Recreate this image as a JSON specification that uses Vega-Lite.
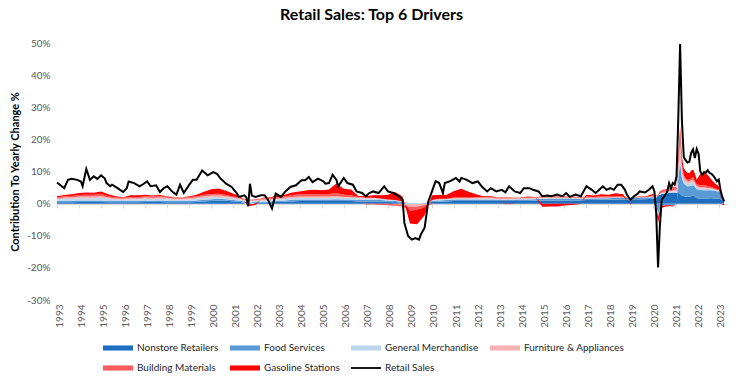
{
"$schema": "https://vega.github.io/schema/vega-lite/v6.json",
"autosize": {"type": "none"},
"padding": {"left": 57, "top": 43, "right": 17, "bottom": 83},
"width": 669,
"height": 257,
"background": "white",
"config": {"view": {"stroke": null}, "font": "Lato", "axis": {"labelOverlap": false}},
"title": {"text": "Retail Sales: Top 6 Drivers", "font": "Lato", "fontSize": 16, "fontWeight": "bold", "color": "black", "anchor": "middle", "frame": "group", "dx": -20, "offset": 15},
"datasets": {
"areas": [
{"d":"1993-01-01","s":"a","v":0.4},{"d":"1993-01-01","s":"b","v":0.4},{"d":"1993-01-01","s":"c","v":0.5},{"d":"1993-01-01","s":"d","v":0.3},{"d":"1993-01-01","s":"e","v":0.4},{"d":"1993-01-01","s":"f","v":0.3},
{"d":"1993-05-01","s":"a","v":0.4},{"d":"1993-05-01","s":"b","v":0.5},{"d":"1993-05-01","s":"c","v":0.6},{"d":"1993-05-01","s":"d","v":0.4},{"d":"1993-05-01","s":"e","v":0.4},{"d":"1993-05-01","s":"f","v":0.4},
{"d":"1993-09-01","s":"a","v":0.4},{"d":"1993-09-01","s":"b","v":0.5},{"d":"1993-09-01","s":"c","v":0.6},{"d":"1993-09-01","s":"d","v":0.4},{"d":"1993-09-01","s":"e","v":0.5},{"d":"1993-09-01","s":"f","v":0.5},
{"d":"1994-01-01","s":"a","v":0.5},{"d":"1994-01-01","s":"b","v":0.5},{"d":"1994-01-01","s":"c","v":0.7},{"d":"1994-01-01","s":"d","v":0.5},{"d":"1994-01-01","s":"e","v":0.5},{"d":"1994-01-01","s":"f","v":0.6},
{"d":"1994-05-01","s":"a","v":0.5},{"d":"1994-05-01","s":"b","v":0.5},{"d":"1994-05-01","s":"c","v":0.7},{"d":"1994-05-01","s":"d","v":0.5},{"d":"1994-05-01","s":"e","v":0.6},{"d":"1994-05-01","s":"f","v":0.7},
{"d":"1994-09-01","s":"a","v":0.5},{"d":"1994-09-01","s":"b","v":0.5},{"d":"1994-09-01","s":"c","v":0.7},{"d":"1994-09-01","s":"d","v":0.5},{"d":"1994-09-01","s":"e","v":0.6},{"d":"1994-09-01","s":"f","v":0.6},
{"d":"1995-01-01","s":"a","v":0.5},{"d":"1995-01-01","s":"b","v":0.5},{"d":"1995-01-01","s":"c","v":0.8},{"d":"1995-01-01","s":"d","v":0.6},{"d":"1995-01-01","s":"e","v":0.6},{"d":"1995-01-01","s":"f","v":0.8},
{"d":"1995-05-01","s":"a","v":0.4},{"d":"1995-05-01","s":"b","v":0.5},{"d":"1995-05-01","s":"c","v":0.6},{"d":"1995-05-01","s":"d","v":0.4},{"d":"1995-05-01","s":"e","v":0.4},{"d":"1995-05-01","s":"f","v":0.6},
{"d":"1995-09-01","s":"a","v":0.4},{"d":"1995-09-01","s":"b","v":0.4},{"d":"1995-09-01","s":"c","v":0.5},{"d":"1995-09-01","s":"d","v":0.3},{"d":"1995-09-01","s":"e","v":0.3},{"d":"1995-09-01","s":"f","v":0.4},
{"d":"1996-01-01","s":"a","v":0.4},{"d":"1996-01-01","s":"b","v":0.4},{"d":"1996-01-01","s":"c","v":0.4},{"d":"1996-01-01","s":"d","v":0.3},{"d":"1996-01-01","s":"e","v":0.3},{"d":"1996-01-01","s":"f","v":0.2},
{"d":"1996-05-01","s":"a","v":0.4},{"d":"1996-05-01","s":"b","v":0.5},{"d":"1996-05-01","s":"c","v":0.5},{"d":"1996-05-01","s":"d","v":0.3},{"d":"1996-05-01","s":"e","v":0.4},{"d":"1996-05-01","s":"f","v":0.5},
{"d":"1996-09-01","s":"a","v":0.4},{"d":"1996-09-01","s":"b","v":0.5},{"d":"1996-09-01","s":"c","v":0.5},{"d":"1996-09-01","s":"d","v":0.3},{"d":"1996-09-01","s":"e","v":0.4},{"d":"1996-09-01","s":"f","v":0.5},
{"d":"1997-01-01","s":"a","v":0.5},{"d":"1997-01-01","s":"b","v":0.5},{"d":"1997-01-01","s":"c","v":0.5},{"d":"1997-01-01","s":"d","v":0.4},{"d":"1997-01-01","s":"e","v":0.4},{"d":"1997-01-01","s":"f","v":0.5},
{"d":"1997-05-01","s":"a","v":0.5},{"d":"1997-05-01","s":"b","v":0.4},{"d":"1997-05-01","s":"c","v":0.5},{"d":"1997-05-01","s":"d","v":0.4},{"d":"1997-05-01","s":"e","v":0.4},{"d":"1997-05-01","s":"f","v":0.3},
{"d":"1997-09-01","s":"a","v":0.5},{"d":"1997-09-01","s":"b","v":0.5},{"d":"1997-09-01","s":"c","v":0.5},{"d":"1997-09-01","s":"d","v":0.4},{"d":"1997-09-01","s":"e","v":0.4},{"d":"1997-09-01","s":"f","v":0.4},
{"d":"1998-01-01","s":"a","v":0.4},{"d":"1998-01-01","s":"b","v":0.5},{"d":"1998-01-01","s":"c","v":0.5},{"d":"1998-01-01","s":"d","v":0.4},{"d":"1998-01-01","s":"e","v":0.4},{"d":"1998-01-01","s":"f","v":0.1},
{"d":"1998-05-01","s":"a","v":0.4},{"d":"1998-05-01","s":"b","v":0.4},{"d":"1998-05-01","s":"c","v":0.4},{"d":"1998-05-01","s":"d","v":0.3},{"d":"1998-05-01","s":"e","v":0.4},{"d":"1998-05-01","s":"f","v":0.1},
{"d":"1998-09-01","s":"a","v":0.4},{"d":"1998-09-01","s":"b","v":0.4},{"d":"1998-09-01","s":"c","v":0.4},{"d":"1998-09-01","s":"d","v":0.3},{"d":"1998-09-01","s":"e","v":0.4},{"d":"1998-09-01","s":"f","v":0.0},
{"d":"1999-01-01","s":"a","v":0.4},{"d":"1999-01-01","s":"b","v":0.5},{"d":"1999-01-01","s":"c","v":0.4},{"d":"1999-01-01","s":"d","v":0.4},{"d":"1999-01-01","s":"e","v":0.4},{"d":"1999-01-01","s":"f","v":0.2},
{"d":"1999-05-01","s":"a","v":0.5},{"d":"1999-05-01","s":"b","v":0.5},{"d":"1999-05-01","s":"c","v":0.5},{"d":"1999-05-01","s":"d","v":0.4},{"d":"1999-05-01","s":"e","v":0.4},{"d":"1999-05-01","s":"f","v":0.5},
{"d":"1999-09-01","s":"a","v":0.7},{"d":"1999-09-01","s":"b","v":0.5},{"d":"1999-09-01","s":"c","v":0.6},{"d":"1999-09-01","s":"d","v":0.5},{"d":"1999-09-01","s":"e","v":0.5},{"d":"1999-09-01","s":"f","v":0.9},
{"d":"2000-01-01","s":"a","v":0.8},{"d":"2000-01-01","s":"b","v":0.6},{"d":"2000-01-01","s":"c","v":0.6},{"d":"2000-01-01","s":"d","v":0.5},{"d":"2000-01-01","s":"e","v":0.5},{"d":"2000-01-01","s":"f","v":1.5},
{"d":"2000-05-01","s":"a","v":0.9},{"d":"2000-05-01","s":"b","v":0.6},{"d":"2000-05-01","s":"c","v":0.6},{"d":"2000-05-01","s":"d","v":0.5},{"d":"2000-05-01","s":"e","v":0.5},{"d":"2000-05-01","s":"f","v":1.6},
{"d":"2000-09-01","s":"a","v":0.9},{"d":"2000-09-01","s":"b","v":0.5},{"d":"2000-09-01","s":"c","v":0.5},{"d":"2000-09-01","s":"d","v":0.4},{"d":"2000-09-01","s":"e","v":0.4},{"d":"2000-09-01","s":"f","v":1.3},
{"d":"2001-01-01","s":"a","v":0.7},{"d":"2001-01-01","s":"b","v":0.4},{"d":"2001-01-01","s":"c","v":0.5},{"d":"2001-01-01","s":"d","v":0.3},{"d":"2001-01-01","s":"e","v":0.3},{"d":"2001-01-01","s":"f","v":0.9},
{"d":"2001-05-01","s":"a","v":0.5},{"d":"2001-05-01","s":"b","v":0.4},{"d":"2001-05-01","s":"c","v":0.4},{"d":"2001-05-01","s":"d","v":0.2},{"d":"2001-05-01","s":"e","v":0.3},{"d":"2001-05-01","s":"f","v":0.4},
{"d":"2001-09-01","s":"a","v":-0.3},{"d":"2001-09-01","s":"b","v":0.3},{"d":"2001-09-01","s":"c","v":0.4},{"d":"2001-09-01","s":"d","v":0.2},{"d":"2001-09-01","s":"e","v":0.3},{"d":"2001-09-01","s":"f","v":-0.5},
{"d":"2002-01-01","s":"a","v":0.2},{"d":"2002-01-01","s":"b","v":0.3},{"d":"2002-01-01","s":"c","v":0.4},{"d":"2002-01-01","s":"d","v":0.2},{"d":"2002-01-01","s":"e","v":0.3},{"d":"2002-01-01","s":"f","v":-0.4},
{"d":"2002-05-01","s":"a","v":0.3},{"d":"2002-05-01","s":"b","v":0.3},{"d":"2002-05-01","s":"c","v":0.4},{"d":"2002-05-01","s":"d","v":0.3},{"d":"2002-05-01","s":"e","v":0.4},{"d":"2002-05-01","s":"f","v":0.1},
{"d":"2002-09-01","s":"a","v":0.4},{"d":"2002-09-01","s":"b","v":0.3},{"d":"2002-09-01","s":"c","v":0.4},{"d":"2002-09-01","s":"d","v":0.3},{"d":"2002-09-01","s":"e","v":0.4},{"d":"2002-09-01","s":"f","v":0.2},
{"d":"2003-01-01","s":"a","v":0.5},{"d":"2003-01-01","s":"b","v":0.4},{"d":"2003-01-01","s":"c","v":0.4},{"d":"2003-01-01","s":"d","v":0.3},{"d":"2003-01-01","s":"e","v":0.4},{"d":"2003-01-01","s":"f","v":0.6},
{"d":"2003-05-01","s":"a","v":0.6},{"d":"2003-05-01","s":"b","v":0.4},{"d":"2003-05-01","s":"c","v":0.5},{"d":"2003-05-01","s":"d","v":0.3},{"d":"2003-05-01","s":"e","v":0.5},{"d":"2003-05-01","s":"f","v":0.5},
{"d":"2003-09-01","s":"a","v":0.7},{"d":"2003-09-01","s":"b","v":0.5},{"d":"2003-09-01","s":"c","v":0.5},{"d":"2003-09-01","s":"d","v":0.4},{"d":"2003-09-01","s":"e","v":0.6},{"d":"2003-09-01","s":"f","v":0.8},
{"d":"2004-01-01","s":"a","v":0.8},{"d":"2004-01-01","s":"b","v":0.5},{"d":"2004-01-01","s":"c","v":0.5},{"d":"2004-01-01","s":"d","v":0.4},{"d":"2004-01-01","s":"e","v":0.7},{"d":"2004-01-01","s":"f","v":0.9},
{"d":"2004-05-01","s":"a","v":0.8},{"d":"2004-05-01","s":"b","v":0.5},{"d":"2004-05-01","s":"c","v":0.5},{"d":"2004-05-01","s":"d","v":0.4},{"d":"2004-05-01","s":"e","v":0.8},{"d":"2004-05-01","s":"f","v":1.2},
{"d":"2004-09-01","s":"a","v":0.8},{"d":"2004-09-01","s":"b","v":0.5},{"d":"2004-09-01","s":"c","v":0.5},{"d":"2004-09-01","s":"d","v":0.4},{"d":"2004-09-01","s":"e","v":0.8},{"d":"2004-09-01","s":"f","v":1.3},
{"d":"2005-01-01","s":"a","v":0.8},{"d":"2005-01-01","s":"b","v":0.5},{"d":"2005-01-01","s":"c","v":0.5},{"d":"2005-01-01","s":"d","v":0.4},{"d":"2005-01-01","s":"e","v":0.8},{"d":"2005-01-01","s":"f","v":1.2},
{"d":"2005-05-01","s":"a","v":0.8},{"d":"2005-05-01","s":"b","v":0.5},{"d":"2005-05-01","s":"c","v":0.5},{"d":"2005-05-01","s":"d","v":0.4},{"d":"2005-05-01","s":"e","v":0.8},{"d":"2005-05-01","s":"f","v":1.4},
{"d":"2005-09-01","s":"a","v":0.8},{"d":"2005-09-01","s":"b","v":0.6},{"d":"2005-09-01","s":"c","v":0.6},{"d":"2005-09-01","s":"d","v":0.4},{"d":"2005-09-01","s":"e","v":0.9},{"d":"2005-09-01","s":"f","v":3.0},
{"d":"2006-01-01","s":"a","v":0.8},{"d":"2006-01-01","s":"b","v":0.5},{"d":"2006-01-01","s":"c","v":0.5},{"d":"2006-01-01","s":"d","v":0.3},{"d":"2006-01-01","s":"e","v":0.7},{"d":"2006-01-01","s":"f","v":1.8},
{"d":"2006-05-01","s":"a","v":0.8},{"d":"2006-05-01","s":"b","v":0.5},{"d":"2006-05-01","s":"c","v":0.5},{"d":"2006-05-01","s":"d","v":0.3},{"d":"2006-05-01","s":"e","v":0.5},{"d":"2006-05-01","s":"f","v":1.8},
{"d":"2006-09-01","s":"a","v":0.7},{"d":"2006-09-01","s":"b","v":0.5},{"d":"2006-09-01","s":"c","v":0.5},{"d":"2006-09-01","s":"d","v":0.2},{"d":"2006-09-01","s":"e","v":0.2},{"d":"2006-09-01","s":"f","v":0.3},
{"d":"2007-01-01","s":"a","v":0.7},{"d":"2007-01-01","s":"b","v":0.5},{"d":"2007-01-01","s":"c","v":0.4},{"d":"2007-01-01","s":"d","v":0.2},{"d":"2007-01-01","s":"e","v":-0.3},{"d":"2007-01-01","s":"f","v":0.5},
{"d":"2007-05-01","s":"a","v":0.7},{"d":"2007-05-01","s":"b","v":0.5},{"d":"2007-05-01","s":"c","v":0.4},{"d":"2007-05-01","s":"d","v":0.2},{"d":"2007-05-01","s":"e","v":-0.3},{"d":"2007-05-01","s":"f","v":0.8},
{"d":"2007-09-01","s":"a","v":0.7},{"d":"2007-09-01","s":"b","v":0.4},{"d":"2007-09-01","s":"c","v":0.4},{"d":"2007-09-01","s":"d","v":0.1},{"d":"2007-09-01","s":"e","v":-0.4},{"d":"2007-09-01","s":"f","v":1.0},
{"d":"2008-01-01","s":"a","v":0.6},{"d":"2008-01-01","s":"b","v":0.4},{"d":"2008-01-01","s":"c","v":0.3},{"d":"2008-01-01","s":"d","v":0.0},{"d":"2008-01-01","s":"e","v":-0.5},{"d":"2008-01-01","s":"f","v":1.5},
{"d":"2008-05-01","s":"a","v":0.5},{"d":"2008-05-01","s":"b","v":0.3},{"d":"2008-05-01","s":"c","v":0.3},{"d":"2008-05-01","s":"d","v":-0.2},{"d":"2008-05-01","s":"e","v":-0.5},{"d":"2008-05-01","s":"f","v":2.5},
{"d":"2008-09-01","s":"a","v":0.3},{"d":"2008-09-01","s":"b","v":0.2},{"d":"2008-09-01","s":"c","v":0.2},{"d":"2008-09-01","s":"d","v":-0.3},{"d":"2008-09-01","s":"e","v":-0.6},{"d":"2008-09-01","s":"f","v":1.5},
{"d":"2009-01-01","s":"a","v":-0.2},{"d":"2009-01-01","s":"b","v":0.0},{"d":"2009-01-01","s":"c","v":0.2},{"d":"2009-01-01","s":"d","v":-0.8},{"d":"2009-01-01","s":"e","v":-1.2},{"d":"2009-01-01","s":"f","v":-4.0},
{"d":"2009-05-01","s":"a","v":-0.1},{"d":"2009-05-01","s":"b","v":-0.1},{"d":"2009-05-01","s":"c","v":0.2},{"d":"2009-05-01","s":"d","v":-0.7},{"d":"2009-05-01","s":"e","v":-1.0},{"d":"2009-05-01","s":"f","v":-4.5},
{"d":"2009-09-01","s":"a","v":0.1},{"d":"2009-09-01","s":"b","v":0.0},{"d":"2009-09-01","s":"c","v":0.2},{"d":"2009-09-01","s":"d","v":-0.4},{"d":"2009-09-01","s":"e","v":-0.7},{"d":"2009-09-01","s":"f","v":-2.5},
{"d":"2010-01-01","s":"a","v":0.5},{"d":"2010-01-01","s":"b","v":0.3},{"d":"2010-01-01","s":"c","v":0.3},{"d":"2010-01-01","s":"d","v":0.0},{"d":"2010-01-01","s":"e","v":-0.2},{"d":"2010-01-01","s":"f","v":1.5},
{"d":"2010-05-01","s":"a","v":0.6},{"d":"2010-05-01","s":"b","v":0.4},{"d":"2010-05-01","s":"c","v":0.3},{"d":"2010-05-01","s":"d","v":0.1},{"d":"2010-05-01","s":"e","v":0.1},{"d":"2010-05-01","s":"f","v":1.2},
{"d":"2010-09-01","s":"a","v":0.7},{"d":"2010-09-01","s":"b","v":0.4},{"d":"2010-09-01","s":"c","v":0.3},{"d":"2010-09-01","s":"d","v":0.1},{"d":"2010-09-01","s":"e","v":0.0},{"d":"2010-09-01","s":"f","v":1.3},
{"d":"2011-01-01","s":"a","v":0.8},{"d":"2011-01-01","s":"b","v":0.5},{"d":"2011-01-01","s":"c","v":0.3},{"d":"2011-01-01","s":"d","v":0.1},{"d":"2011-01-01","s":"e","v":0.2},{"d":"2011-01-01","s":"f","v":2.0},
{"d":"2011-05-01","s":"a","v":0.8},{"d":"2011-05-01","s":"b","v":0.5},{"d":"2011-05-01","s":"c","v":0.3},{"d":"2011-05-01","s":"d","v":0.1},{"d":"2011-05-01","s":"e","v":0.3},{"d":"2011-05-01","s":"f","v":2.6},
{"d":"2011-09-01","s":"a","v":0.8},{"d":"2011-09-01","s":"b","v":0.5},{"d":"2011-09-01","s":"c","v":0.3},{"d":"2011-09-01","s":"d","v":0.1},{"d":"2011-09-01","s":"e","v":0.2},{"d":"2011-09-01","s":"f","v":1.8},
{"d":"2012-01-01","s":"a","v":0.8},{"d":"2012-01-01","s":"b","v":0.5},{"d":"2012-01-01","s":"c","v":0.3},{"d":"2012-01-01","s":"d","v":0.2},{"d":"2012-01-01","s":"e","v":0.3},{"d":"2012-01-01","s":"f","v":0.8},
{"d":"2012-05-01","s":"a","v":0.8},{"d":"2012-05-01","s":"b","v":0.5},{"d":"2012-05-01","s":"c","v":0.3},{"d":"2012-05-01","s":"d","v":0.2},{"d":"2012-05-01","s":"e","v":0.3},{"d":"2012-05-01","s":"f","v":0.2},
{"d":"2012-09-01","s":"a","v":0.8},{"d":"2012-09-01","s":"b","v":0.5},{"d":"2012-09-01","s":"c","v":0.3},{"d":"2012-09-01","s":"d","v":0.2},{"d":"2012-09-01","s":"e","v":0.3},{"d":"2012-09-01","s":"f","v":0.2},
{"d":"2013-01-01","s":"a","v":0.8},{"d":"2013-01-01","s":"b","v":0.4},{"d":"2013-01-01","s":"c","v":0.2},{"d":"2013-01-01","s":"d","v":0.2},{"d":"2013-01-01","s":"e","v":0.4},{"d":"2013-01-01","s":"f","v":0.0},
{"d":"2013-05-01","s":"a","v":0.8},{"d":"2013-05-01","s":"b","v":0.4},{"d":"2013-05-01","s":"c","v":0.2},{"d":"2013-05-01","s":"d","v":0.2},{"d":"2013-05-01","s":"e","v":0.4},{"d":"2013-05-01","s":"f","v":-0.2},
{"d":"2013-09-01","s":"a","v":0.8},{"d":"2013-09-01","s":"b","v":0.4},{"d":"2013-09-01","s":"c","v":0.2},{"d":"2013-09-01","s":"d","v":0.2},{"d":"2013-09-01","s":"e","v":0.3},{"d":"2013-09-01","s":"f","v":-0.1},
{"d":"2014-01-01","s":"a","v":0.8},{"d":"2014-01-01","s":"b","v":0.5},{"d":"2014-01-01","s":"c","v":0.2},{"d":"2014-01-01","s":"d","v":0.2},{"d":"2014-01-01","s":"e","v":0.2},{"d":"2014-01-01","s":"f","v":0.0},
{"d":"2014-05-01","s":"a","v":0.8},{"d":"2014-05-01","s":"b","v":0.5},{"d":"2014-05-01","s":"c","v":0.2},{"d":"2014-05-01","s":"d","v":0.2},{"d":"2014-05-01","s":"e","v":0.3},{"d":"2014-05-01","s":"f","v":0.2},
{"d":"2014-09-01","s":"a","v":0.9},{"d":"2014-09-01","s":"b","v":0.5},{"d":"2014-09-01","s":"c","v":0.2},{"d":"2014-09-01","s":"d","v":0.2},{"d":"2014-09-01","s":"e","v":0.3},{"d":"2014-09-01","s":"f","v":0.0},
{"d":"2015-01-01","s":"a","v":0.9},{"d":"2015-01-01","s":"b","v":0.6},{"d":"2015-01-01","s":"c","v":0.2},{"d":"2015-01-01","s":"d","v":0.2},{"d":"2015-01-01","s":"e","v":0.4},{"d":"2015-01-01","s":"f","v":-1.0},
{"d":"2015-05-01","s":"a","v":0.9},{"d":"2015-05-01","s":"b","v":0.6},{"d":"2015-05-01","s":"c","v":0.2},{"d":"2015-05-01","s":"d","v":0.2},{"d":"2015-05-01","s":"e","v":0.4},{"d":"2015-05-01","s":"f","v":-0.9},
{"d":"2015-09-01","s":"a","v":0.9},{"d":"2015-09-01","s":"b","v":0.6},{"d":"2015-09-01","s":"c","v":0.2},{"d":"2015-09-01","s":"d","v":0.2},{"d":"2015-09-01","s":"e","v":0.4},{"d":"2015-09-01","s":"f","v":-0.9},
{"d":"2016-01-01","s":"a","v":1.0},{"d":"2016-01-01","s":"b","v":0.6},{"d":"2016-01-01","s":"c","v":0.1},{"d":"2016-01-01","s":"d","v":0.2},{"d":"2016-01-01","s":"e","v":0.4},{"d":"2016-01-01","s":"f","v":-0.6},
{"d":"2016-05-01","s":"a","v":1.0},{"d":"2016-05-01","s":"b","v":0.6},{"d":"2016-05-01","s":"c","v":0.1},{"d":"2016-05-01","s":"d","v":0.2},{"d":"2016-05-01","s":"e","v":0.4},{"d":"2016-05-01","s":"f","v":-0.4},
{"d":"2016-09-01","s":"a","v":1.0},{"d":"2016-09-01","s":"b","v":0.5},{"d":"2016-09-01","s":"c","v":0.1},{"d":"2016-09-01","s":"d","v":0.2},{"d":"2016-09-01","s":"e","v":0.3},{"d":"2016-09-01","s":"f","v":-0.2},
{"d":"2017-01-01","s":"a","v":1.1},{"d":"2017-01-01","s":"b","v":0.5},{"d":"2017-01-01","s":"c","v":0.1},{"d":"2017-01-01","s":"d","v":0.2},{"d":"2017-01-01","s":"e","v":0.3},{"d":"2017-01-01","s":"f","v":0.6},
{"d":"2017-05-01","s":"a","v":1.1},{"d":"2017-05-01","s":"b","v":0.5},{"d":"2017-05-01","s":"c","v":0.1},{"d":"2017-05-01","s":"d","v":0.1},{"d":"2017-05-01","s":"e","v":0.3},{"d":"2017-05-01","s":"f","v":0.4},
{"d":"2017-09-01","s":"a","v":1.2},{"d":"2017-09-01","s":"b","v":0.5},{"d":"2017-09-01","s":"c","v":0.1},{"d":"2017-09-01","s":"d","v":0.1},{"d":"2017-09-01","s":"e","v":0.4},{"d":"2017-09-01","s":"f","v":0.6},
{"d":"2018-01-01","s":"a","v":1.2},{"d":"2018-01-01","s":"b","v":0.5},{"d":"2018-01-01","s":"c","v":0.1},{"d":"2018-01-01","s":"d","v":0.1},{"d":"2018-01-01","s":"e","v":0.3},{"d":"2018-01-01","s":"f","v":0.6},
{"d":"2018-05-01","s":"a","v":1.3},{"d":"2018-05-01","s":"b","v":0.5},{"d":"2018-05-01","s":"c","v":0.1},{"d":"2018-05-01","s":"d","v":0.1},{"d":"2018-05-01","s":"e","v":0.3},{"d":"2018-05-01","s":"f","v":0.9},
{"d":"2018-09-01","s":"a","v":1.3},{"d":"2018-09-01","s":"b","v":0.5},{"d":"2018-09-01","s":"c","v":0.1},{"d":"2018-09-01","s":"d","v":0.1},{"d":"2018-09-01","s":"e","v":0.2},{"d":"2018-09-01","s":"f","v":0.7},
{"d":"2019-01-01","s":"a","v":1.3},{"d":"2019-01-01","s":"b","v":0.5},{"d":"2019-01-01","s":"c","v":0.1},{"d":"2019-01-01","s":"d","v":0.0},{"d":"2019-01-01","s":"e","v":0.1},{"d":"2019-01-01","s":"f","v":-0.3},
{"d":"2019-05-01","s":"a","v":1.4},{"d":"2019-05-01","s":"b","v":0.5},{"d":"2019-05-01","s":"c","v":0.1},{"d":"2019-05-01","s":"d","v":0.0},{"d":"2019-05-01","s":"e","v":0.1},{"d":"2019-05-01","s":"f","v":0.1},
{"d":"2019-09-01","s":"a","v":1.4},{"d":"2019-09-01","s":"b","v":0.5},{"d":"2019-09-01","s":"c","v":0.1},{"d":"2019-09-01","s":"d","v":0.0},{"d":"2019-09-01","s":"e","v":0.1},{"d":"2019-09-01","s":"f","v":0.1},
{"d":"2020-01-01","s":"a","v":1.5},{"d":"2020-01-01","s":"b","v":0.5},{"d":"2020-01-01","s":"c","v":0.2},{"d":"2020-01-01","s":"d","v":0.0},{"d":"2020-01-01","s":"e","v":0.3},{"d":"2020-01-01","s":"f","v":0.5},
{"d":"2020-02-01","s":"a","v":1.5},{"d":"2020-02-01","s":"b","v":0.5},{"d":"2020-02-01","s":"c","v":0.2},{"d":"2020-02-01","s":"d","v":0.0},{"d":"2020-02-01","s":"e","v":0.3},{"d":"2020-02-01","s":"f","v":0.3},
{"d":"2020-03-01","s":"a","v":1.8},{"d":"2020-03-01","s":"b","v":-1.0},{"d":"2020-03-01","s":"c","v":0.4},{"d":"2020-03-01","s":"d","v":-0.4},{"d":"2020-03-01","s":"e","v":0.3},{"d":"2020-03-01","s":"f","v":-0.6},
{"d":"2020-04-01","s":"a","v":2.5},{"d":"2020-04-01","s":"b","v":-3.0},{"d":"2020-04-01","s":"c","v":-0.3},{"d":"2020-04-01","s":"d","v":-0.8},{"d":"2020-04-01","s":"e","v":0.3},{"d":"2020-04-01","s":"f","v":-2.0},
{"d":"2020-05-01","s":"a","v":2.8},{"d":"2020-05-01","s":"b","v":-2.0},{"d":"2020-05-01","s":"c","v":0.3},{"d":"2020-05-01","s":"d","v":-0.2},{"d":"2020-05-01","s":"e","v":0.8},{"d":"2020-05-01","s":"f","v":-1.3},
{"d":"2020-06-01","s":"a","v":3.0},{"d":"2020-06-01","s":"b","v":-0.8},{"d":"2020-06-01","s":"c","v":0.3},{"d":"2020-06-01","s":"d","v":0.1},{"d":"2020-06-01","s":"e","v":0.8},{"d":"2020-06-01","s":"f","v":-0.6},
{"d":"2020-07-01","s":"a","v":3.1},{"d":"2020-07-01","s":"b","v":-0.6},{"d":"2020-07-01","s":"c","v":0.3},{"d":"2020-07-01","s":"d","v":0.2},{"d":"2020-07-01","s":"e","v":0.8},{"d":"2020-07-01","s":"f","v":-0.5},
{"d":"2020-08-01","s":"a","v":3.2},{"d":"2020-08-01","s":"b","v":-0.5},{"d":"2020-08-01","s":"c","v":0.3},{"d":"2020-08-01","s":"d","v":0.2},{"d":"2020-08-01","s":"e","v":0.8},{"d":"2020-08-01","s":"f","v":-0.4},
{"d":"2020-09-01","s":"a","v":3.2},{"d":"2020-09-01","s":"b","v":-0.5},{"d":"2020-09-01","s":"c","v":0.3},{"d":"2020-09-01","s":"d","v":0.2},{"d":"2020-09-01","s":"e","v":0.9},{"d":"2020-09-01","s":"f","v":-0.4},
{"d":"2020-10-01","s":"a","v":3.3},{"d":"2020-10-01","s":"b","v":-0.5},{"d":"2020-10-01","s":"c","v":0.4},{"d":"2020-10-01","s":"d","v":0.3},{"d":"2020-10-01","s":"e","v":0.9},{"d":"2020-10-01","s":"f","v":-0.3},
{"d":"2020-11-01","s":"a","v":3.4},{"d":"2020-11-01","s":"b","v":-0.5},{"d":"2020-11-01","s":"c","v":0.4},{"d":"2020-11-01","s":"d","v":0.3},{"d":"2020-11-01","s":"e","v":1.0},{"d":"2020-11-01","s":"f","v":-0.3},
{"d":"2020-12-01","s":"a","v":3.4},{"d":"2020-12-01","s":"b","v":-0.6},{"d":"2020-12-01","s":"c","v":0.4},{"d":"2020-12-01","s":"d","v":0.3},{"d":"2020-12-01","s":"e","v":1.0},{"d":"2020-12-01","s":"f","v":-0.3},
{"d":"2021-01-01","s":"a","v":3.5},{"d":"2021-01-01","s":"b","v":-0.4},{"d":"2021-01-01","s":"c","v":0.5},{"d":"2021-01-01","s":"d","v":0.4},{"d":"2021-01-01","s":"e","v":1.0},{"d":"2021-01-01","s":"f","v":-0.1},
{"d":"2021-02-01","s":"a","v":3.3},{"d":"2021-02-01","s":"b","v":-0.2},{"d":"2021-02-01","s":"c","v":0.4},{"d":"2021-02-01","s":"d","v":0.2},{"d":"2021-02-01","s":"e","v":1.0},{"d":"2021-02-01","s":"f","v":0.1},
{"d":"2021-03-01","s":"a","v":3.5},{"d":"2021-03-01","s":"b","v":4.0},{"d":"2021-03-01","s":"c","v":1.5},{"d":"2021-03-01","s":"d","v":2.0},{"d":"2021-03-01","s":"e","v":2.0},{"d":"2021-03-01","s":"f","v":2.0},
{"d":"2021-04-01","s":"a","v":3.0},{"d":"2021-04-01","s":"b","v":10.0},{"d":"2021-04-01","s":"c","v":2.0},{"d":"2021-04-01","s":"d","v":3.5},{"d":"2021-04-01","s":"e","v":3.0},{"d":"2021-04-01","s":"f","v":2.5},
{"d":"2021-05-01","s":"a","v":2.5},{"d":"2021-05-01","s":"b","v":5.5},{"d":"2021-05-01","s":"c","v":1.2},{"d":"2021-05-01","s":"d","v":1.8},{"d":"2021-05-01","s":"e","v":1.3},{"d":"2021-05-01","s":"f","v":2.3},
{"d":"2021-06-01","s":"a","v":2.3},{"d":"2021-06-01","s":"b","v":4.0},{"d":"2021-06-01","s":"c","v":1.0},{"d":"2021-06-01","s":"d","v":0.8},{"d":"2021-06-01","s":"e","v":0.7},{"d":"2021-06-01","s":"f","v":2.2},
{"d":"2021-07-01","s":"a","v":2.2},{"d":"2021-07-01","s":"b","v":3.6},{"d":"2021-07-01","s":"c","v":0.9},{"d":"2021-07-01","s":"d","v":0.7},{"d":"2021-07-01","s":"e","v":0.6},{"d":"2021-07-01","s":"f","v":2.2},
{"d":"2021-08-01","s":"a","v":2.1},{"d":"2021-08-01","s":"b","v":3.3},{"d":"2021-08-01","s":"c","v":0.9},{"d":"2021-08-01","s":"d","v":0.6},{"d":"2021-08-01","s":"e","v":0.5},{"d":"2021-08-01","s":"f","v":2.1},
{"d":"2021-09-01","s":"a","v":2.2},{"d":"2021-09-01","s":"b","v":3.2},{"d":"2021-09-01","s":"c","v":0.9},{"d":"2021-09-01","s":"d","v":0.6},{"d":"2021-09-01","s":"e","v":0.5},{"d":"2021-09-01","s":"f","v":2.1},
{"d":"2021-10-01","s":"a","v":2.3},{"d":"2021-10-01","s":"b","v":3.3},{"d":"2021-10-01","s":"c","v":1.0},{"d":"2021-10-01","s":"d","v":0.7},{"d":"2021-10-01","s":"e","v":0.6},{"d":"2021-10-01","s":"f","v":2.3},
{"d":"2021-11-01","s":"a","v":2.5},{"d":"2021-11-01","s":"b","v":3.3},{"d":"2021-11-01","s":"c","v":1.0},{"d":"2021-11-01","s":"d","v":0.7},{"d":"2021-11-01","s":"e","v":0.7},{"d":"2021-11-01","s":"f","v":2.5},
{"d":"2021-12-01","s":"a","v":2.2},{"d":"2021-12-01","s":"b","v":3.0},{"d":"2021-12-01","s":"c","v":0.8},{"d":"2021-12-01","s":"d","v":0.5},{"d":"2021-12-01","s":"e","v":0.6},{"d":"2021-12-01","s":"f","v":2.3},
{"d":"2022-01-01","s":"a","v":1.7},{"d":"2022-01-01","s":"b","v":2.8},{"d":"2022-01-01","s":"c","v":0.6},{"d":"2022-01-01","s":"d","v":0.3},{"d":"2022-01-01","s":"e","v":0.6},{"d":"2022-01-01","s":"f","v":1.5},
{"d":"2022-03-01","s":"a","v":1.6},{"d":"2022-03-01","s":"b","v":2.7},{"d":"2022-03-01","s":"c","v":0.5},{"d":"2022-03-01","s":"d","v":0.3},{"d":"2022-03-01","s":"e","v":0.6},{"d":"2022-03-01","s":"f","v":3.5},
{"d":"2022-05-01","s":"a","v":1.6},{"d":"2022-05-01","s":"b","v":2.6},{"d":"2022-05-01","s":"c","v":0.5},{"d":"2022-05-01","s":"d","v":0.3},{"d":"2022-05-01","s":"e","v":0.7},{"d":"2022-05-01","s":"f","v":3.8},
{"d":"2022-07-01","s":"a","v":1.6},{"d":"2022-07-01","s":"b","v":2.6},{"d":"2022-07-01","s":"c","v":0.4},{"d":"2022-07-01","s":"d","v":0.3},{"d":"2022-07-01","s":"e","v":0.6},{"d":"2022-07-01","s":"f","v":3.5},
{"d":"2022-09-01","s":"a","v":1.7},{"d":"2022-09-01","s":"b","v":2.5},{"d":"2022-09-01","s":"c","v":0.4},{"d":"2022-09-01","s":"d","v":0.2},{"d":"2022-09-01","s":"e","v":0.4},{"d":"2022-09-01","s":"f","v":2.3},
{"d":"2022-11-01","s":"a","v":1.6},{"d":"2022-11-01","s":"b","v":2.4},{"d":"2022-11-01","s":"c","v":0.3},{"d":"2022-11-01","s":"d","v":0.1},{"d":"2022-11-01","s":"e","v":0.3},{"d":"2022-11-01","s":"f","v":1.6},
{"d":"2023-01-01","s":"a","v":1.5},{"d":"2023-01-01","s":"b","v":2.2},{"d":"2023-01-01","s":"c","v":0.3},{"d":"2023-01-01","s":"d","v":0.1},{"d":"2023-01-01","s":"e","v":0.3},{"d":"2023-01-01","s":"f","v":1.0},
{"d":"2023-03-01","s":"a","v":1.2},{"d":"2023-03-01","s":"b","v":1.8},{"d":"2023-03-01","s":"c","v":0.2},{"d":"2023-03-01","s":"d","v":-0.1},{"d":"2023-03-01","s":"e","v":0.0},{"d":"2023-03-01","s":"f","v":-0.3},
{"d":"2023-04-01","s":"a","v":0.5},{"d":"2023-04-01","s":"b","v":0.6},{"d":"2023-04-01","s":"c","v":0.1},{"d":"2023-04-01","s":"d","v":-0.1},{"d":"2023-04-01","s":"e","v":-0.1},{"d":"2023-04-01","s":"f","v":-0.3}
],
"sales": [
{"d":"1993-01-01","v":6.6},{"d":"1993-05-01","v":4.8},{"d":"1993-07-01","v":7.4},{"d":"1993-09-01","v":7.7},{"d":"1993-12-01","v":7.4},
{"d":"1994-02-01","v":6.9},{"d":"1994-03-01","v":5.4},{"d":"1994-05-01","v":10.8},{"d":"1994-07-01","v":7.4},{"d":"1994-09-01","v":8.5},{"d":"1994-11-01","v":7.7},
{"d":"1995-01-01","v":8.8},{"d":"1995-03-01","v":7.9},{"d":"1995-04-01","v":6.4},{"d":"1995-06-01","v":5.4},{"d":"1995-07-01","v":5.9},{"d":"1995-10-01","v":4.8},
{"d":"1996-01-01","v":3.6},{"d":"1996-03-01","v":4.8},{"d":"1996-04-01","v":6.9},{"d":"1996-07-01","v":6.4},{"d":"1996-10-01","v":5.4},{"d":"1996-12-01","v":6.1},
{"d":"1997-02-01","v":6.9},{"d":"1997-04-01","v":5.4},{"d":"1997-07-01","v":5.7},{"d":"1997-09-01","v":3.6},{"d":"1997-11-01","v":4.8},
{"d":"1998-01-01","v":5.4},{"d":"1998-04-01","v":3.6},{"d":"1998-06-01","v":2.8},{"d":"1998-08-01","v":5.9},{"d":"1998-10-01","v":3.3},
{"d":"1999-01-01","v":5.9},{"d":"1999-03-01","v":7.4},{"d":"1999-05-01","v":7.4},{"d":"1999-08-01","v":10.3},{"d":"1999-11-01","v":8.8},
{"d":"2000-02-01","v":9.8},{"d":"2000-04-01","v":9.3},{"d":"2000-06-01","v":7.8},{"d":"2000-09-01","v":6.2},{"d":"2000-12-01","v":5.2},
{"d":"2001-03-01","v":3.1},{"d":"2001-04-01","v":2.1},{"d":"2001-07-01","v":2.6},{"d":"2001-08-01","v":2.0},{"d":"2001-09-01","v":-0.8},{"d":"2001-10-01","v":6.2},{"d":"2001-11-01","v":2.5},
{"d":"2002-01-01","v":2.1},{"d":"2002-04-01","v":2.6},{"d":"2002-06-01","v":2.6},{"d":"2002-08-01","v":1.0},{"d":"2002-10-01","v":-1.5},{"d":"2002-12-01","v":3.1},
{"d":"2003-03-01","v":2.1},{"d":"2003-05-01","v":3.6},{"d":"2003-08-01","v":5.2},{"d":"2003-11-01","v":5.7},
{"d":"2004-02-01","v":7.3},{"d":"2004-04-01","v":7.3},{"d":"2004-06-01","v":8.3},{"d":"2004-08-01","v":6.7},{"d":"2004-11-01","v":7.8},
{"d":"2005-02-01","v":6.9},{"d":"2005-03-01","v":6.2},{"d":"2005-05-01","v":6.4},{"d":"2005-07-01","v":9.0},{"d":"2005-09-01","v":7.4},{"d":"2005-10-01","v":5.4},
{"d":"2006-01-01","v":8.0},{"d":"2006-03-01","v":6.4},{"d":"2006-06-01","v":5.9},{"d":"2006-08-01","v":3.8},{"d":"2006-11-01","v":3.3},
{"d":"2007-01-01","v":2.3},{"d":"2007-03-01","v":3.3},{"d":"2007-05-01","v":3.8},{"d":"2007-08-01","v":3.3},{"d":"2007-11-01","v":5.4},
{"d":"2008-01-01","v":3.8},{"d":"2008-04-01","v":3.3},{"d":"2008-07-01","v":2.3},{"d":"2008-09-01","v":1.2},{"d":"2008-10-01","v":-6.0},{"d":"2008-12-01","v":-10.1},
{"d":"2009-02-01","v":-11.2},{"d":"2009-04-01","v":-10.7},{"d":"2009-06-01","v":-11.2},{"d":"2009-07-01","v":-9.6},{"d":"2009-09-01","v":-7.5},{"d":"2009-11-01","v":0.7},
{"d":"2010-01-01","v":3.8},{"d":"2010-03-01","v":7.0},{"d":"2010-05-01","v":6.4},{"d":"2010-07-01","v":3.3},{"d":"2010-08-01","v":6.4},{"d":"2010-11-01","v":7.0},
{"d":"2011-02-01","v":8.0},{"d":"2011-04-01","v":6.9},{"d":"2011-05-01","v":8.0},{"d":"2011-08-01","v":7.4},{"d":"2011-11-01","v":6.4},
{"d":"2012-02-01","v":6.9},{"d":"2012-04-01","v":5.4},{"d":"2012-07-01","v":3.8},{"d":"2012-09-01","v":4.8},{"d":"2012-12-01","v":3.8},
{"d":"2013-03-01","v":4.3},{"d":"2013-05-01","v":3.5},{"d":"2013-07-01","v":5.4},{"d":"2013-10-01","v":3.8},
{"d":"2014-01-01","v":3.3},{"d":"2014-03-01","v":4.8},{"d":"2014-06-01","v":4.8},{"d":"2014-08-01","v":4.3},{"d":"2014-11-01","v":3.8},
{"d":"2015-01-01","v":2.3},{"d":"2015-04-01","v":2.5},{"d":"2015-06-01","v":2.3},{"d":"2015-09-01","v":2.8},{"d":"2015-12-01","v":2.3},
{"d":"2016-02-01","v":3.3},{"d":"2016-04-01","v":2.1},{"d":"2016-07-01","v":2.8},{"d":"2016-10-01","v":2.3},
{"d":"2017-01-01","v":5.4},{"d":"2017-04-01","v":4.3},{"d":"2017-06-01","v":3.3},{"d":"2017-08-01","v":4.3},{"d":"2017-10-01","v":5.4},{"d":"2017-12-01","v":4.3},
{"d":"2018-02-01","v":4.8},{"d":"2018-04-01","v":4.3},{"d":"2018-06-01","v":5.9},{"d":"2018-08-01","v":5.9},{"d":"2018-10-01","v":4.3},{"d":"2018-11-01","v":2.8},
{"d":"2019-01-01","v":1.2},{"d":"2019-03-01","v":2.3},{"d":"2019-05-01","v":3.1},{"d":"2019-06-01","v":3.8},{"d":"2019-09-01","v":3.5},{"d":"2019-11-01","v":4.3},
{"d":"2020-01-01","v":5.4},{"d":"2020-02-01","v":3.8},{"d":"2020-03-01","v":-3.0},{"d":"2020-04-01","v":-19.9},{"d":"2020-05-01","v":-7.0},{"d":"2020-06-01","v":1.2},
{"d":"2020-07-01","v":2.0},{"d":"2020-08-01","v":2.8},{"d":"2020-09-01","v":3.8},{"d":"2020-10-01","v":6.4},{"d":"2020-11-01","v":4.8},{"d":"2020-12-01","v":6.4},
{"d":"2021-01-01","v":5.9},{"d":"2021-02-01","v":8.5},{"d":"2021-03-01","v":26.0},{"d":"2021-04-01","v":49.7},{"d":"2021-05-01","v":26.0},{"d":"2021-06-01","v":14.5},
{"d":"2021-07-01","v":13.5},{"d":"2021-08-01","v":12.8},{"d":"2021-09-01","v":13.0},{"d":"2021-10-01","v":15.8},{"d":"2021-11-01","v":16.9},{"d":"2021-12-01","v":14.2},
{"d":"2022-01-01","v":17.0},{"d":"2022-02-01","v":15.5},{"d":"2022-03-01","v":10.0},{"d":"2022-04-01","v":9.0},{"d":"2022-05-01","v":9.8},{"d":"2022-06-01","v":9.6},
{"d":"2022-07-01","v":10.4},{"d":"2022-08-01","v":9.6},{"d":"2022-09-01","v":9.3},{"d":"2022-10-01","v":8.7},{"d":"2022-11-01","v":7.9},{"d":"2022-12-01","v":6.9},
{"d":"2023-01-01","v":7.5},{"d":"2023-02-01","v":4.0},{"d":"2023-03-01","v":2.0},{"d":"2023-04-01","v":0.7}
]
},
"layer": [
{
"data": {"name": "areas"},
"mark": {"type": "area", "interpolate": "linear"},
"encoding": {
"x": {"field": "d", "type": "temporal",
"scale": {"domain": [{"year": 1993, "month": 1, "date": 1}, {"year": 2023, "month": 5, "date": 1}]},
"axis": {"orient": "bottom", "title": null, "format": "%Y", "tickCount": "year", "labelAngle": -90, "labelFont": "Lato", "labelFontSize": 10, "labelColor": "#595959", "labelPadding": 4, "labelOffset": 2, "domain": false, "ticks": false, "grid": false, "labelFlush": false, "labelOverlap": false}},
"y": {"field": "v", "type": "quantitative", "stack": "zero",
"scale": {"domain": [-30, 50], "nice": false},
"axis": {"title": "Contribution To Yearly Change %", "values": [-30, -20, -10, 0, 10, 20, 30, 40, 50], "tickCount": 10, "labelExpr": "datum.value + '%'", "labelOverlap": false, "labelFont": "Lato", "labelFontSize": 10, "labelColor": "#595959", "labelPadding": 7, "domain": false, "ticks": false, "grid": false, "titleFont": "Lato", "titleFontSize": 11, "titleFontWeight": "bold", "titleColor": "black", "titlePadding": 6}},
"color": {"field": "s", "type": "nominal",
"scale": {"domain": ["a", "b", "c", "d", "e", "f", "g"], "range": ["#1F6EBF", "#5B9BD5", "#BDD7EE", "#F6B2B2", "#FF5B5B", "#FF0000", "#000000"]},
"legend": {"orient": "none", "direction": "horizontal", "legendX": 46, "legendY": 290, "columns": 4, "columnPadding": 11, "rowPadding": -10, "title": null,
"symbolType": "M-1,-0.17H1V0.17H-1Z", "symbolSize": 900, "symbolStrokeWidth": 0, "symbolOpacity": 1,
"labelFont": "Lato", "labelFontSize": 10, "labelColor": "#262626", "labelOffset": 4,
"labelExpr": "datum.value == 'a' ? 'Nonstore Retailers' : datum.value == 'b' ? 'Food Services' : datum.value == 'c' ? 'General Merchandise' : datum.value == 'd' ? 'Furniture & Appliances' : datum.value == 'e' ? 'Building Materials' : datum.value == 'f' ? 'Gasoline Stations' : 'Retail Sales'",
"encode": {"symbols": {"update": {"shape": {"signal": "datum.value == 'g' ? 'M-1,-0.06H1V0.06H-1Z' : 'M-1,-0.17H1V0.17H-1Z'"}}}}}},
"order": {"field": "s", "sort": "ascending"}
}
},
{
"data": {"name": "sales"},
"mark": {"type": "line", "color": "black", "strokeWidth": 2, "interpolate": "linear"},
"encoding": {
"x": {"field": "d", "type": "temporal",
"axis": {"orient": "bottom", "offset": -96, "title": null, "labels": false, "grid": false, "tickCount": "year", "domain": true, "domainColor": "#D9D9D9", "domainWidth": 1, "ticks": true, "tickColor": "#D9D9D9", "tickSize": 4}},
"y": {"field": "v", "type": "quantitative"}
}
}
],
"resolve": {"axis": {"x": "independent"}}
}
